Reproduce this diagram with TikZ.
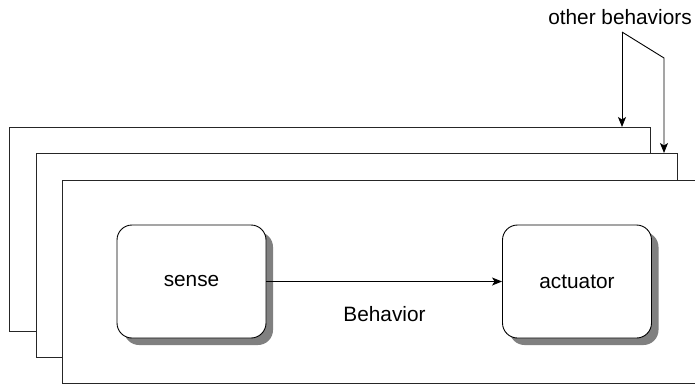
\documentclass[tikz,border=0pt]{standalone}
\usepackage{fontspec}
\setmainfont{Liberation Sans}
\usetikzlibrary{arrows.meta,shadows}

\begin{document}
\begin{tikzpicture}[x=1pt, y=-1pt, line width=0.9pt, >={Stealth[length=10pt, width=8pt, inset=2.5pt]},
		every node/.style={align=center, font=\fontsize{20.8}{24}\selectfont},
		frame/.style={draw=black!85, fill=white, inner sep=0pt, outer sep=0pt},
		unit/.style={draw=black, fill=white, rounded corners=15pt, minimum width=149pt, minimum height=113pt, inner sep=0pt,
			drop shadow={shadow xshift=7pt, shadow yshift=-7pt, fill=black!50, opacity=1}}]
				\useasboundingbox (0,0) rectangle (695,385);
				\node (back) at (329.5,229) [frame, minimum width=641pt, minimum height=204pt] {};
				\node (mid) at (356.5,255) [frame, minimum width=641pt, minimum height=204pt] {};
				\node (front) at (383.5,281.5) [frame, minimum width=643pt, minimum height=203pt] {};
				\node (sense) at (191.5,281.5) [unit] {sense};
				\node (actuator) at (577,281.5) [unit] {actuator};
				\node (behavior) at (384.5,314) {Behavior};
				\node (others) at (620,17) {other behaviors};
				\coordinate (split) at (622,32);
				\coordinate (bend) at (664,58);
				
				\draw[->] (sense) -- (actuator);
				\draw[->] (split) -- (split |- back.north);
				\draw[->] (split) -- (bend) -- (bend |- mid.north);
			\end{tikzpicture}
\end{document}
